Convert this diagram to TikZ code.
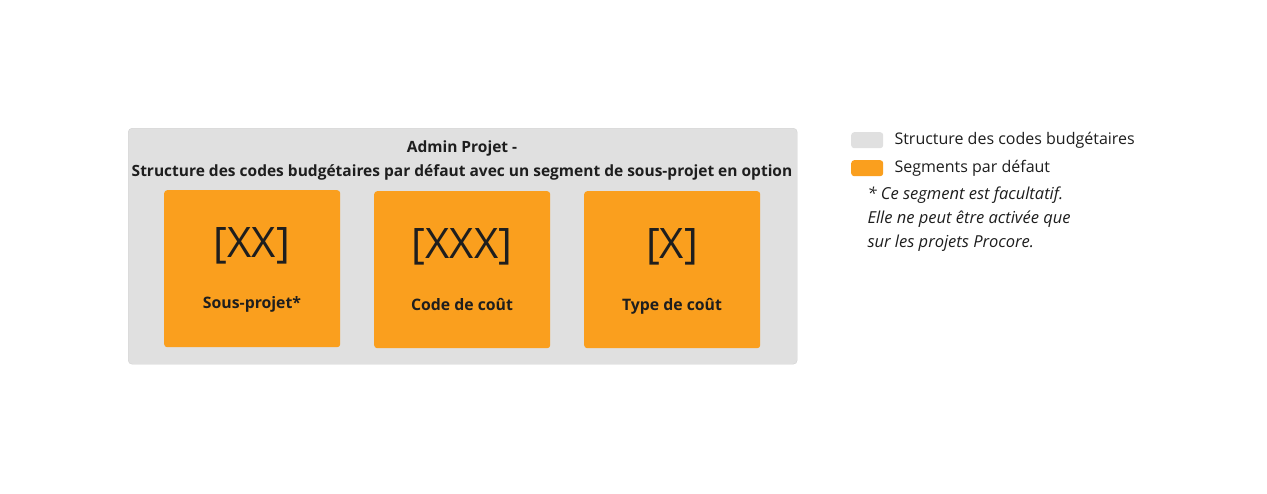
\documentclass[tikz,border=0pt]{standalone}
\usepackage{fontspec}
\setmainfont{Open Sans}
\definecolor{boxgray}{HTML}{E0E0E0}
\definecolor{boxline}{HTML}{D2D2D2}
\definecolor{seg}{HTML}{FA9F1E}
\definecolor{txt}{HTML}{1E1E1E}
\tikzset{
  segbox/.style={fill=seg,rounded corners=3pt,minimum width=176pt,minimum height=157pt,anchor=north west,inner sep=0pt},
  code/.style={font=\fontsize{42}{48}\selectfont,text=txt},
  lab/.style={font=\fontsize{15.8}{19}\selectfont\bfseries,text=txt},
  leg/.style={font=\fontsize{16}{19}\selectfont,text=txt,anchor=west},
  swatch/.style={rounded corners=3pt,minimum width=32pt,minimum height=16pt,inner sep=0pt,anchor=north west}
}
\begin{document}
\begin{tikzpicture}[x=1pt,y=-1pt]
\useasboundingbox[fill=white] (0,0) rectangle (1267,493);
\node[draw=boxline,fill=boxgray,rounded corners=4pt,minimum width=669pt,minimum height=236pt,anchor=north west,inner sep=0pt] (outer) at (128,128) {};
\node[lab,align=center,font=\fontsize{15.5}{24}\selectfont\bfseries] (title) at (462,160) {Admin Projet -\\Structure des codes budgétaires par défaut avec un segment de sous-projet en option};
\node[segbox] (b1) at (164,190) {};
\node[segbox] (b2) at (374,191) {};
\node[segbox] (b3) at (584,191) {};
\node[code] (c1) at (252,246) {[XX]};
\node[code] (c2) at (462,247) {[XXX]};
\node[code] (c3) at (672,247) {[X]};
\node[lab] (l1) at (252,304) {Sous-projet*};
\node[lab] (l2) at (462,305) {Code de coût};
\node[lab] (l3) at (672,306) {Type de coût};
\node[swatch,fill=boxgray] (s1) at (851,132) {};
\node[swatch,fill=seg] (s2) at (851,160) {};
\node[leg] (t1) at (891,140) {Structure des codes budgétaires};
\node[leg] (t2) at (891,168) {Segments par défaut};
\node[leg,font=\fontsize{16.5}{24}\selectfont\itshape,align=left,anchor=north west] (note) at (864,183) {* Ce segment est facultatif.\\Elle ne peut être activée que\\sur les projets Procore.};
\end{tikzpicture}
\end{document}
